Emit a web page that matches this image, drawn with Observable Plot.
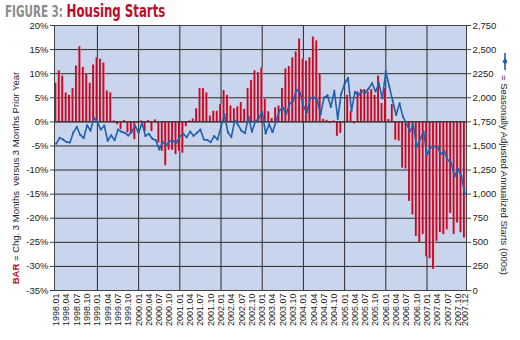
<!DOCTYPE html>
<html><head><meta charset="utf-8">
<script src="https://cdn.jsdelivr.net/npm/d3@7"></script>
<script src="https://cdn.jsdelivr.net/npm/@observablehq/plot@0.6"></script>
<style>body{margin:0;background:#fff;} svg{display:block}</style>
</head><body><div id="chart"></div>
<script>
const years = ["1998","1999","2000","2001","2002","2003","2004","2005","2006","2007"];
const monthNums = ["01","02","03","04","05","06","07","08","09","10","11","12"];
const months = years.flatMap(y => monthNums.map(m => y + "." + m));

const xTickLabels = [
 "1998.01","1998.04","1998.07","1998.10","1999.01","1999.04","1999.07","1999.10",
 "2000.01","2000.04","2000.07","2000.10","2001.01","2001.04","2001.07","2001.10",
 "2002.01","2002.04","2002.07","2002.10","2003.01","2003.04","2003.07","2003.10",
 "2004.01","2004.04","2004.07","2004.10","2005.01","2005.04","2005.07","2005.10",
 "2006.01","2006.04","2006.07","2006.10","2007.01","2007.04","2007.07","2007.10","2007.12"];
const yearGrid = ["1999.01","2000.01","2001.01","2002.01","2003.01","2004.01","2005.01","2006.01","2007.01"];

const leftTicks = [20,15,10,5,0,-5,-10,-15,-20,-25,-30,-35];
const rightTicks = [0,250,500,750,1000,1250,1500,1750,2000,2250,2500,2750];
const rightLabels = ["0","250","500","750","1,000","1,250","1,500","1,750","2,000","2250","2,500","2,750"];

// BAR: % change, 3 months vs same 3 months prior year
const change = [
 8.0,10.6,9.5,6.0,5.5,6.9,11.6,15.6,11.3,9.9,8.0,11.8,
 13.3,13.0,12.2,6.4,6.0,0.2,-0.6,-1.6,0.3,-2.3,-2.6,-3.7,
 -0.3,0.2,-2.0,0.3,-2.0,0.4,-4.4,-6.1,-9.1,-5.9,-5.9,-6.8,
 -6.1,-6.5,-1.0,0.2,0.6,2.7,6.9,6.9,6.0,1.2,2.2,2.2,
 3.6,6.5,5.5,3.3,2.7,3.1,4.0,2.6,6.9,8.6,10.6,10.2,
 11.2,4.7,2.1,0.7,2.9,3.3,6.9,11.0,11.5,13.3,14.5,17.2,
 13.0,12.6,13.3,17.6,16.8,9.9,0.5,0.3,-0.3,0.2,-3.0,-2.4,
 -0.2,5.5,2.1,-0.4,6.2,6.7,6.7,6.2,6.7,5.5,9.5,3.8,
 6.9,0.5,3.6,-3.8,-4.0,-9.6,-9.8,-16.5,-19.3,-23.8,-25.1,-23.4,
 -28.0,-28.4,-30.6,-24.8,-23.0,-23.4,-22.4,-19.0,-23.4,-21.0,-23.0,-24.1];

// LINE: seasonally adjusted annualized starts (000s)
const starts = [
 1525,1584,1567,1540,1536,1641,1698,1614,1582,1715,1660,1792,
 1748,1670,1710,1553,1611,1559,1669,1648,1635,1608,1648,1708,
 1636,1737,1604,1626,1575,1559,1463,1541,1507,1549,1551,1532,
 1600,1625,1590,1649,1605,1636,1670,1567,1562,1540,1602,1568,
 1698,1829,1642,1592,1764,1717,1655,1633,1804,1648,1753,1788,
 1853,1629,1726,1643,1751,1867,1897,1833,1939,1967,2083,2057,
 1911,1846,1998,2003,1981,1828,2002,2024,1905,2072,1782,2042,
 2144,2207,1864,2061,2025,2068,2054,2095,2151,2065,2147,1994,
 2273,2119,1969,1821,1942,1802,1737,1650,1720,1491,1570,1649,
 1409,1480,1495,1490,1415,1448,1354,1330,1183,1264,1187,1006];

const toY = v => -35 + v * 55 / 2750;
const rightMap = new Map(rightTicks.map((v, i) => [toY(v), rightLabels[i]]));
const data = months.map((m, i) => ({m, chg: change[i], starts: starts[i]}));

const RED = "#c00a28", BLUE = "#1f60b0", GRID = "#2a2a2a";
const FONT = "'Liberation Sans', Arial, sans-serif";

const chart = Plot.plot({
  width: 520, height: 340,
  marginLeft: 54, marginRight: 54, marginTop: 25, marginBottom: 50,
  style: {fontFamily: FONT, fontSize: "9px", background: "white", color: "#222", overflow: "visible"},
  x: {type: "band", domain: months, padding: 0, axis: null},
  y: {domain: [-35, 20], axis: null},
  marks: [
    Plot.frame({fill: "#c9d5ec"}),
    Plot.ruleY(leftTicks, {stroke: GRID, strokeWidth: 1}),
    Plot.ruleX(yearGrid, {stroke: GRID, strokeWidth: 1}),
    Plot.barY(data, {x: "m", y: "chg", fill: "#e6aaba", insetLeft: 2.2, insetRight: 0.4}),
    Plot.barY(data, {x: "m", y: "chg", fill: RED, insetLeft: 0.4, insetRight: 1.2}),
    Plot.ruleY([0], {stroke: GRID, strokeWidth: 1}),
    Plot.line(data, {x: "m", y: d => toY(d.starts), stroke: BLUE, strokeWidth: 1.6}),
    Plot.dot(data, {x: "m", y: d => toY(d.starts), r: 1.1, fill: BLUE, stroke: "none"}),
    Plot.frame({stroke: "#444", strokeWidth: 1}),
    Plot.axisY(leftTicks, {anchor: "left", label: null, tickFormat: d => d + "%", tickSize: 4, tickPadding: 2, stroke: "#444", fontSize: 9.5}),
    Plot.axisY(rightTicks.map(toY), {anchor: "right", label: null, tickFormat: d => rightMap.get(d), tickSize: 4, tickPadding: 2, stroke: "#444", fontSize: 9.5}),
    Plot.axisX(xTickLabels, {anchor: "bottom", label: null, tickRotate: -90, tickSize: 0, tickPadding: 3, fontSize: 9})
  ]
});

const svg = d3.select(chart);
// Title (condensed)
const title = svg.append("text").attr("transform", "translate(5,17) scale(0.77,1)").attr("text-anchor", "start")
  .style("font-family", "'Liberation Sans Narrow','DejaVu Sans Condensed',Arial,sans-serif")
  .style("font-weight", "bold");
title.append("tspan").text("FIGURE 3: ").attr("fill", "#8c8c8c").style("font-size", "15px");
title.append("tspan").text("Housing Starts").attr("fill", RED).style("font-size", "17px");

// Left axis title
const lt = svg.append("text").attr("transform", "translate(19,178) rotate(-90)")
  .attr("text-anchor", "middle").style("font-family", FONT).style("font-size", "9.5px")
  .style("white-space", "pre").attr("fill", "#222");
lt.append("tspan").text("BAR").attr("fill", RED).style("font-weight", "bold");
lt.append("tspan").text(" = Chg. 3 Months  versus 3 Months Prior Year");

// Right axis title with line icon
svg.append("line").attr("x1", 505).attr("x2", 505).attr("y1", 53).attr("y2", 70)
  .attr("stroke", BLUE).attr("stroke-width", 1.6);
svg.append("path").attr("d", "M505,58 L507.5,61.5 L505,65 L502.5,61.5 Z").attr("fill", BLUE);
svg.append("text").attr("transform", "translate(501,75) rotate(90)")
  .attr("text-anchor", "start").style("font-family", FONT).style("font-size", "9.5px")
  .attr("fill", "#222").text("= Seasonally Adjusted Annualized Starts (000s)");

document.getElementById("chart").appendChild(chart);
</script>
</body></html>
